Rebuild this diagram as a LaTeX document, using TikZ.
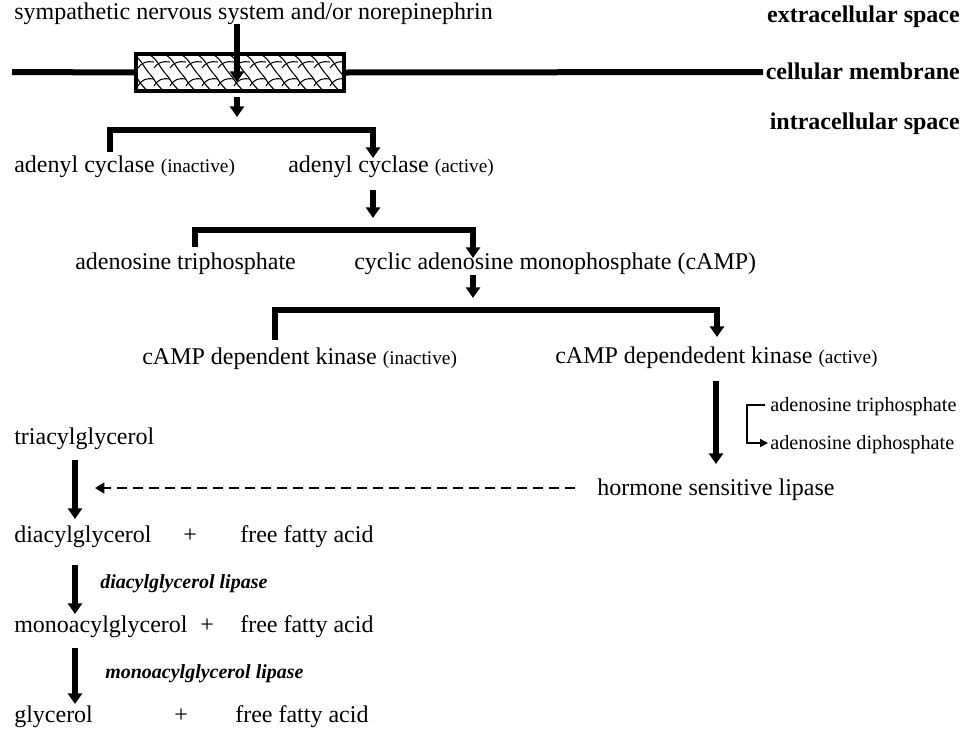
\documentclass[tikz,border=0pt]{standalone}
\usepackage{fontspec}
\setmainfont{Liberation Serif}
\usetikzlibrary{arrows.meta}
\newcommand{\mainsz}{\fontsize{18}{20}\selectfont}
\newcommand{\smsz}{\fontsize{14.5}{16}\selectfont}
\newcommand{\sidesz}{\fontsize{15.2}{17}\selectfont}
\begin{document}
\begin{tikzpicture}[x=0.75pt,y=-0.75pt,
  lbl/.style={inner sep=0pt, anchor=west, font=\mainsz, text height=0.7em, text depth=0.2em, yshift=-3pt},
  rlbl/.style={inner sep=0pt, anchor=east, font=\mainsz\bfseries, text height=0.7em, text depth=0.2em, yshift=-3pt},
  slbl/.style={inner sep=0pt, anchor=west, font=\sidesz, text height=0.7em, text depth=0.2em, yshift=-2.5pt},
  ilbl/.style={inner sep=0pt, anchor=west, font=\fontsize{15}{17}\selectfont\bfseries\itshape, text height=0.7em, text depth=0.2em, yshift=-2.5pt},
  arr/.style={line width=3.8pt, -{Triangle[width=10.5pt,length=8pt]}},
  barline/.style={line width=3.8pt, line join=miter},
  thinarr/.style={line width=1.1pt, -{Triangle[width=6pt,length=6pt]}},
  dasharr/.style={line width=2.2pt, dash pattern=on 7.5pt off 4.5pt, -{Triangle[width=8pt,length=7pt]}},
  hatch/.style={line width=0.8pt},
]
\useasboundingbox (0,0) rectangle (968,729);
\fill[white] (0,0) rectangle (968,729);

% labels on the right
\node[rlbl] (extra) at (960,15) {extracellular space};
\node[rlbl] (memb) at (960,72) {cellular membrane};
\node[rlbl] (intra) at (960,122) {intracellular space};

% membrane and receptor box
\node[draw, line width=2.2pt, fill=white, minimum width=154.5pt, minimum height=26.25pt, inner sep=0pt] (rec) at (240,72.5) {};
\coordinate (mL) at (12,72);
\coordinate (mR) at (763,72);
\draw[line width=4.5pt] (mL) -- (rec.west);
\draw[line width=4.5pt] (rec.east) -- (mR);
\begin{scope}
  \clip (rec.south west) rectangle (rec.north east);
  \foreach \i [evaluate=\i as \xa using 118+16*\i] in {0,...,15} {
    \draw[hatch] ({\xa},55) .. controls ({\xa+8},60) and ({\xa+10},68) .. ({\xa+15},73)
                 .. controls ({\xa+20},78) and ({\xa+22},85) .. ({\xa+30},91);
    \draw[hatch] ({\xa+4},68) .. controls ({\xa+8},62) and ({\xa+13},61) .. ({\xa+20},62);
    \draw[hatch] ({\xa+4},86) .. controls ({\xa+8},79) and ({\xa+13},78) .. ({\xa+20},79);
  }
\end{scope}
\draw[line width=2.2pt] (rec.south west) rectangle (rec.north east);

% title
\node[lbl] (title) at (14,12) {sympathetic nervous system and/or norepinephrin};
\coordinate (t1) at (237,24);
\coordinate (t2) at (237,82);
\draw[arr] (t1) -- (t2);
\coordinate (r1) at (237,97);
\coordinate (r2) at (237,117);
\draw[arr] (r1) -- (r2);

% adenyl cyclase
\node[lbl] (aci) at (14,165) {adenyl cyclase {\smsz(inactive)}};
\node[lbl] (aca) at (288,165) {adenyl cyclase {\smsz(active)}};
\coordinate (b1l) at (110,152);
\coordinate (b1r) at (373,130);
\coordinate (b1e) at (373,158);
\draw[barline, arr] (b1l) |- (b1r) -- (b1e);
\coordinate (a1) at (373,190);
\coordinate (a2) at (373,218);
\draw[arr] (a1) -- (a2);

% ATP -> cAMP
\node[lbl] (atp) at (75,262) {adenosine triphosphate};
\node[lbl] (camp) at (354,262) {cyclic adenosine monophosphate (cAMP)};
\coordinate (b2l) at (195,247);
\coordinate (b2r) at (473,230);
\coordinate (b2e) at (473,258);
\draw[barline, arr] (b2l) |- (b2r) -- (b2e);
\coordinate (c1) at (473,275);
\coordinate (c2) at (473,298);
\draw[arr] (c1) -- (c2);

% kinase
\node[lbl] (pki) at (142,357) {cAMP dependent kinase {\smsz(inactive)}};
\node[lbl] (pka) at (555,356) {cAMP dependedent kinase {\smsz(active)}};
\coordinate (b3l) at (275,340);
\coordinate (b3r) at (717,310);
\coordinate (b3e) at (717,337);
\draw[barline, arr] (b3l) |- (b3r) -- (b3e);
\coordinate (k1) at (716,381);
\coordinate (k2) at (716,464);
\draw[arr] (k1) -- (k2);

% ATP -> ADP side
\node[slbl] (atp2) at (770,405) {adenosine triphosphate};
\node[slbl] (adp) at (770,443) {adenosine diphosphate};
\coordinate (s1) at (765,405);
\coordinate (s2) at (747,405);
\coordinate (s3) at (747,443);
\coordinate (s4) at (768,443);
\draw[thinarr] (s1) -- (s2) -- (s3) -- (s4);

% hormone sensitive lipase
\node[lbl] (hsl) at (597,488) {hormone sensitive lipase};
\coordinate (d1) at (575,488);
\coordinate (d2) at (95,488);
\draw[dasharr] (d1) -- (d2);

% lipolysis chain
\node[lbl] (tag) at (14,437) {triacylglycerol};
\node[lbl] (dag) at (14,535) {diacylglycerol};
\node[lbl] (p1) at (183,535) {+};
\node[lbl] (ffa1) at (240,535) {free fatty acid};
\node[ilbl] (dagl) at (100,582) {diacylglycerol lipase};
\node[lbl] (mag) at (14,625) {monoacylglycerol};
\node[lbl] (p2) at (200,625) {+};
\node[lbl] (ffa2) at (240,625) {free fatty acid};
\node[ilbl] (magl) at (105,672) {monoacylglycerol lipase};
\node[lbl] (gly) at (14,715) {glycerol};
\node[lbl] (p3) at (174,715) {+};
\node[lbl] (ffa3) at (235,715) {free fatty acid};

\coordinate (g1) at (75,460);
\coordinate (g2) at (75,519);
\draw[arr] (g1) -- (g2);
\coordinate (g3) at (75,565);
\coordinate (g4) at (75,614);
\draw[arr] (g3) -- (g4);
\coordinate (g5) at (75,648);
\coordinate (g6) at (75,704);
\draw[arr] (g5) -- (g6);
\end{tikzpicture}
\end{document}
